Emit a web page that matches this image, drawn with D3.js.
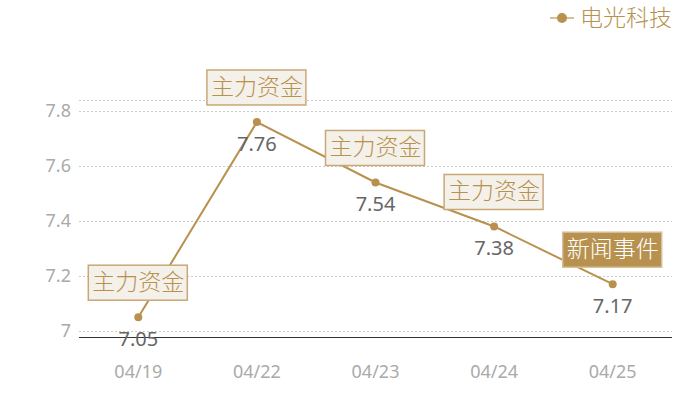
<!DOCTYPE html>
<html>
<head>
<meta charset="utf-8">
<script src="https://cdn.jsdelivr.net/npm/d3@7/dist/d3.min.js"></script>
<style>
  body { margin: 0; background: #fff; }
  text { font-family: "Noto Sans", "Noto Sans CJK SC", sans-serif; }
  text.cjk { font-family: "Noto Sans CJK SC", sans-serif; font-weight: 300; }
</style>
</head>
<body>
<script>
// chart data
const dates = ['04/19', '04/22', '04/23', '04/24', '04/25'];
const prices = [7.05, 7.76, 7.54, 7.38, 7.17];
const notes = ['主力资金', '主力资金', '主力资金', '主力资金', '新闻事件'];
const yTicks = [7, 7.2, 7.4, 7.6, 7.8];
const seriesName = '电光科技';

const width = 700;
const height = 400;
const margin = { top: 100, right: 28, bottom: 63, left: 79 };
const gold = '#b8914f';

const svg = d3.select('body')
  .append('svg')
  .attr('width', width)
  .attr('height', height);

const x = d3.scalePoint()
  .domain(dates)
  .range([margin.left, width - margin.right])
  .padding(0.5);

const y = d3.scaleLinear()
  .domain([6.978, 7.84])
  .range([height - margin.bottom, margin.top]);

// grid lines
svg.append('g')
  .selectAll('line')
  .data(yTicks.concat([7.84]))
  .enter()
  .append('line')
  .attr('x1', margin.left)
  .attr('x2', width - margin.right)
  .attr('y1', d => Math.round(y(d)) + 0.5)
  .attr('y2', d => Math.round(y(d)) + 0.5)
  .attr('stroke', '#ccc')
  .attr('stroke-dasharray', '2,2');

// y axis labels
svg.append('g')
  .selectAll('text')
  .data(yTicks)
  .enter()
  .append('text')
  .attr('x', margin.left - 8)
  .attr('y', d => y(d) + 6)
  .attr('text-anchor', 'end')
  .attr('fill', '#aaa')
  .style('font-size', '18px')
  .text(d => d);

// x axis
svg.append('line')
  .attr('x1', margin.left)
  .attr('x2', width - margin.right)
  .attr('y1', height - margin.bottom + 0.5)
  .attr('y2', height - margin.bottom + 0.5)
  .attr('stroke', '#333');

svg.append('g')
  .selectAll('text')
  .data(dates)
  .enter()
  .append('text')
  .attr('x', d => x(d))
  .attr('y', height - margin.bottom + 41)
  .attr('text-anchor', 'middle')
  .attr('fill', '#aaa')
  .style('font-size', '18px')
  .text(d => d);

// line
const pts = dates.map((d, i) => ({ date: d, v: prices[i], note: notes[i] }));

svg.append('path')
  .datum(pts)
  .attr('fill', 'none')
  .attr('stroke', gold)
  .attr('stroke-width', 2)
  .attr('d', d3.line().x(d => x(d.date)).y(d => y(d.v)));

svg.append('g')
  .selectAll('circle')
  .data(pts)
  .enter()
  .append('circle')
  .attr('cx', d => x(d.date))
  .attr('cy', d => y(d.v))
  .attr('r', 4)
  .attr('fill', gold);

// value labels
svg.append('g')
  .selectAll('text')
  .data(pts)
  .enter()
  .append('text')
  .attr('x', d => x(d.date))
  .attr('y', d => y(d.v) + 29)
  .attr('text-anchor', 'middle')
  .attr('fill', '#666')
  .style('font-size', '20px')
  .text(d => d.v.toFixed(2));

// annotation boxes
const notesG = svg.append('g')
  .selectAll('g')
  .data(pts)
  .enter()
  .append('g')
  .attr('transform', d => `translate(${x(d.date)}, ${y(d.v) - 35})`);

notesG.append('rect')
  .attr('x', -50)
  .attr('y', -17)
  .attr('width', 99)
  .attr('height', 35)
  .attr('fill', d => d.note === '新闻事件' ? gold : '#f4f0ea')
  .attr('stroke', d => d.note === '新闻事件' ? '#d6bf98' : '#c9a878')
  .attr('stroke-width', 1.5);

notesG.append('text')
  .attr('class', 'cjk')
  .attr('x', 0)
  .attr('y', 8)
  .attr('text-anchor', 'middle')
  .attr('fill', d => d.note === '新闻事件' ? '#fff' : gold)
  .style('font-size', '23px')
  .text(d => d.note);

// legend
const legend = svg.append('g').attr('transform', 'translate(550, 18)');
legend.append('line')
  .attr('x1', 0).attr('x2', 24)
  .attr('stroke', '#d7bf97')
  .attr('stroke-width', 2);
legend.append('circle')
  .attr('cx', 12)
  .attr('r', 5)
  .attr('fill', gold);
legend.append('text')
  .attr('class', 'cjk')
  .attr('x', 30)
  .attr('y', 8)
  .attr('fill', gold)
  .style('font-size', '23px')
  .text(seriesName);
</script>
</body>
</html>
